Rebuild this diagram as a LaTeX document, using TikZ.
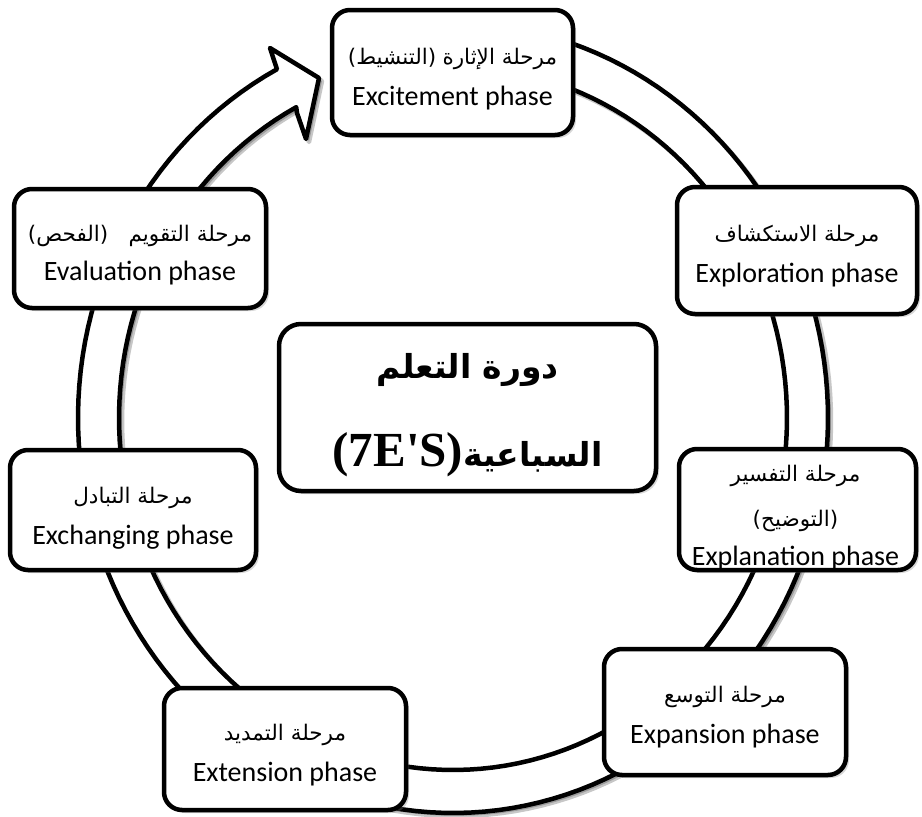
\documentclass[tikz,border=0pt]{standalone}
\usepackage{fontspec}
\usetikzlibrary{shadows}
\TeXXeTstate=1
\newfontfamily\engfont{Carlito}
\newfontfamily\arabicfont[Script=Arabic]{DejaVu Sans}
\newfontfamily\titlelatin[Ligatures=TeXOff]{Liberation Serif}
\newcommand{\ar}[1]{{\arabicfont\fontsize{21.5}{24}\selectfont\beginR #1\endR}}
\newcommand{\arp}[1]{{\arabicfont\fontsize{21.5}{24}\selectfont)\beginR #1\endR(}}
\newcommand{\en}[1]{{\engfont\fontsize{28}{40}\selectfont #1}}
\newcommand{\ringpath}{plot[domain=-95:242,samples=160] ({453+375*cos(\x)},{418+395*sin(\x)})
  -- (270,48) -- (319,78) -- (306,139) -- (297,113)
  -- plot[domain=242:-95,samples=160] ({453+334*cos(\x)},{418+352*sin(\x)}) -- cycle}
\begin{document}
\begin{tikzpicture}[x=1pt,y=-1pt,
  phase/.style={draw, line width=4.5pt, rounded corners=18pt, fill=white, inner sep=0pt,
    drop shadow={shadow xshift=3pt, shadow yshift=-3pt, opacity=0.3}},
  phasetext/.style={align=center, inner sep=0pt, font=\engfont\fontsize{28}{41}\selectfont},
  ring/.style={draw, fill=white, line width=4.5pt, line join=round}]
\useasboundingbox[fill=white] (0,0) rectangle (922,817);
% ring shadow and ring arrow
\draw[draw=black, fill=black, opacity=0.22, line width=4.5pt, line join=round, shift={(3,3)}] \ringpath;
\draw[ring] \ringpath;
% phase boxes
\node[phase, minimum width=241, minimum height=125] (excite) at (452.5,72.5) {};
\node[phasetext] (excite-t) at ([yshift=-7pt]excite.center)
  {\arp{التنشيط} \ar{مرحلة الإثارة}\\ \en{Excitement phase}};
\node[phase, minimum width=240, minimum height=127] (explore) at (797,250.5) {};
\node[phasetext] (explore-t) at ([yshift=-6pt]explore.center)
  {\ar{مرحلة الاستكشاف}\\ \en{Exploration phase}};
\node[phase, minimum width=237, minimum height=121] (explain) at (797.5,509.5) {};
\node[phasetext] (explain-t) at ([xshift=-2pt,yshift=-8pt]explain.center)
  {\ar{مرحلة التفسير}\\[4pt] \arp{التوضيح}\\[-2pt] {\engfont\fontsize{28}{40}\selectfont Explanation phase}};
\node[phase, minimum width=242, minimum height=126] (expand) at (725,712) {};
\node[phasetext] (expand-t) at ([yshift=-5pt]expand.center)
  {\ar{مرحلة التوسع}\\ \en{Expansion phase}};
\node[phase, minimum width=242, minimum height=122] (extend) at (285,749) {};
\node[phasetext] (extend-t) at ([yshift=-6pt]extend.center)
  {\ar{مرحلة التمديد}\\ \en{Extension phase}};
\node[phase, minimum width=246, minimum height=120] (exchange) at (133,510) {};
\node[phasetext] (exchange-t) at ([yshift=-8pt]exchange.center)
  {\ar{مرحلة التبادل}\\ \en{Exchanging phase}};
\node[phase, minimum width=252, minimum height=119] (evaluate) at (140,248.5) {};
\node[phasetext] (evaluate-t) at ([yshift=-7pt]evaluate.center)
  {\arp{الفحص}\hspace{0.5em} \ar{مرحلة التقويم}\\[-2pt] \en{Evaluation phase}};
% title
\node[phase, minimum width=377, minimum height=167, rounded corners=22pt] (title) at (467.5,407.5) {};
\node[align=center, inner sep=0pt, font=\arabicfont\bfseries\fontsize{33}{88}\selectfont]
  (title-t) at ([yshift=-8pt]title.center)
  {\beginR دورة التعلم\endR\\
   {\titlelatin\bfseries\fontsize{49}{88}\selectfont (7E'S)}\beginR السباعية\endR};
\end{tikzpicture}
\end{document}
